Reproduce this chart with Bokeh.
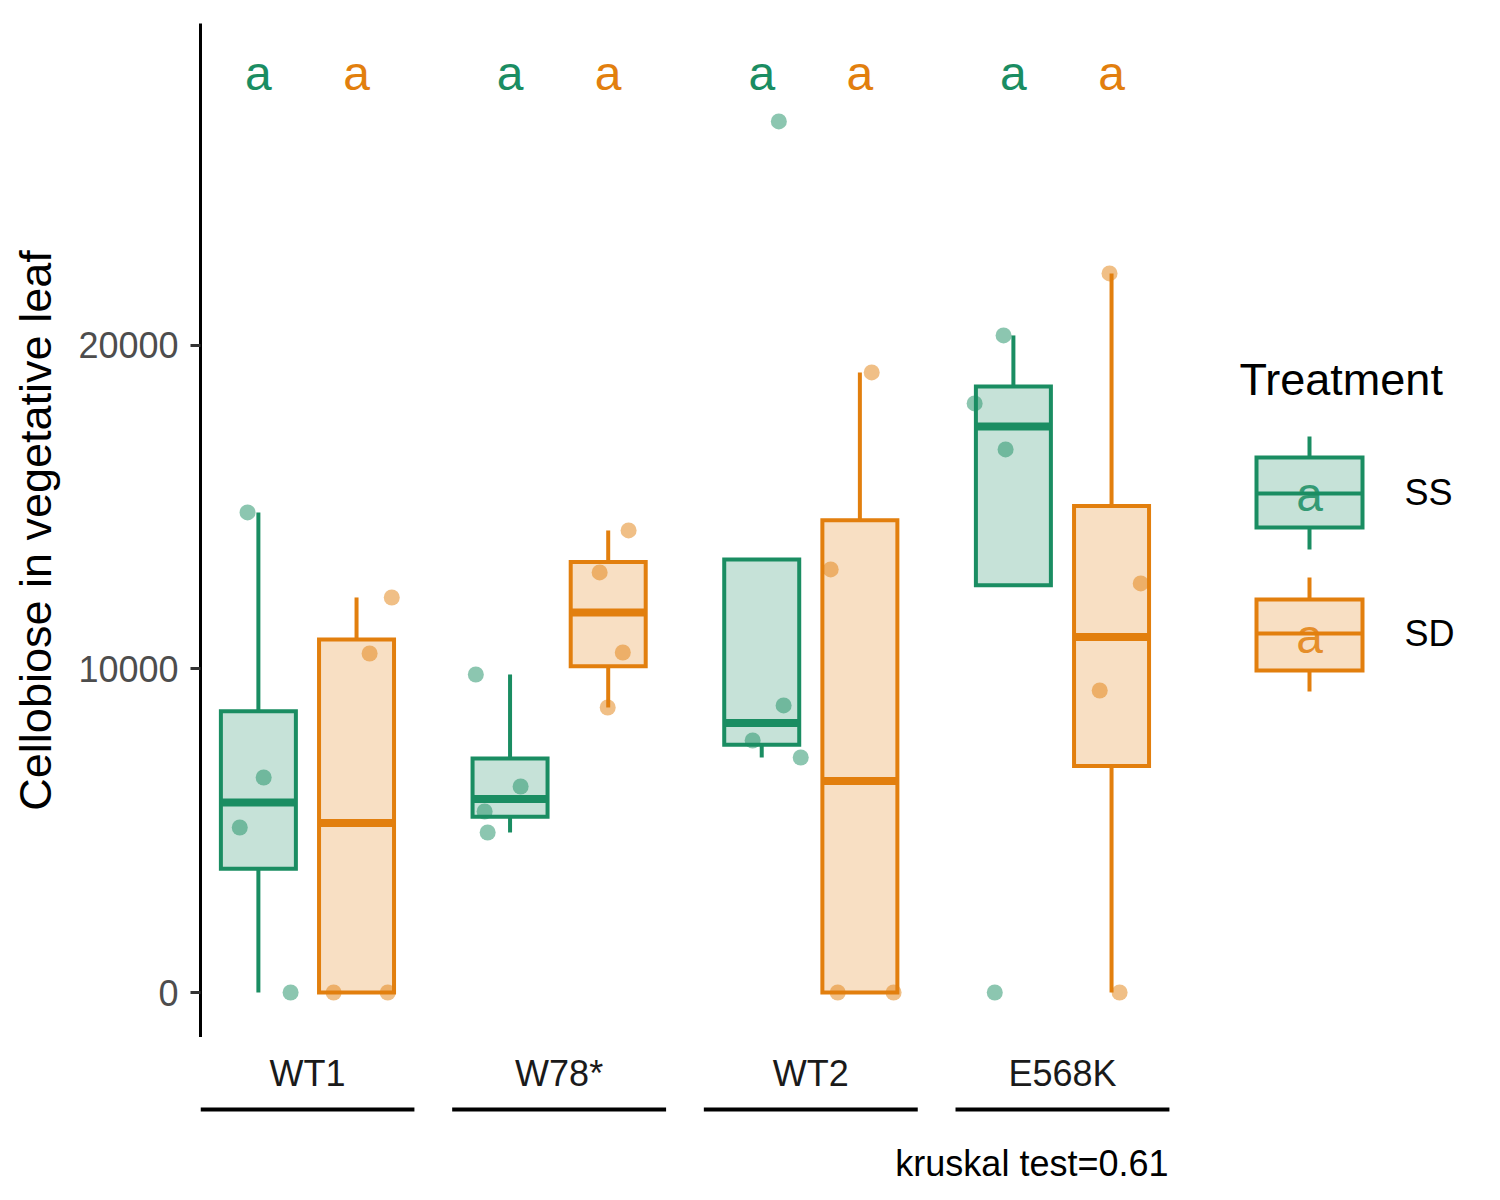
import numpy as np
from bokeh.plotting import figure
from bokeh.layouts import column
from bokeh.models import Range1d, FixedTicker, ColumnDataSource
from bokeh.core.properties import value
from bokeh.embed import file_html
from bokeh.resources import INLINE

# ---------------- data ----------------
genotypes = ["WT1", "W78*", "WT2", "E568K"]
treatments = ["SS", "SD"]

ss_values = [[0, 5100, 6646, 14838],
             [4946, 5595, 6368, 9830],
             [7264, 7790, 8872, 26924],
             [0, 16785, 18207, 20309]]
sd_values = [[0, 0, 10479, 12210],
             [8810, 10510, 12983, 14281],
             [0, 0, 13076, 19165],
             [0, 9335, 12643, 22226]]

# horizontal jitter of each point (category units), same order as values
ss_jitter = [[0.128, -0.074, 0.021, -0.043],
             [-0.089, -0.101, 0.042, -0.136],
             [0.155, -0.036, 0.087, 0.068],
             [-0.074, -0.031, -0.154, -0.039]]
sd_jitter = [[-0.091, 0.124, 0.052, 0.140],
             [-0.002, 0.058, -0.034, 0.081],
             [-0.088, 0.134, -0.116, 0.047],
             [0.032, -0.047, 0.116, -0.008]]

ss_letters = ["a", "a", "a", "a"]
sd_letters = ["a", "a", "a", "a"]

y_ticks = [0, 10000, 20000]
y_title = "Cellobiose in vegetative leaf"
legend_title = "Treatment"
caption = "kruskal test=0.61"

colors = {"SS": "#1A8D62", "SD": "#E27F0E"}
FONT = "Liberation Sans"

# ---------------- layout (page pixel geometry) ----------------
W, H = 1500, 1200
FRAME_L, FRAME_T, FRAME_R, FRAME_B = 200, 23, 1500, 1037
X_PX = 251.67      # pixels per category
X_LEFT = 0.575     # category coordinate at frame left
Y_PX = 0.032353    # pixels per unit
Y0_PX = 992        # page pixel row of y = 0
TXT = 14           # text-glyph baseline correction (px)
DODGE = 0.195
BOX_W = 0.298
LW = 4


def dx(px):
    return X_LEFT + (px - FRAME_L) / X_PX


def dy(py):
    return (Y0_PX - py) / Y_PX


def box_stats(v):
    v = np.sort(np.asarray(v, float))
    q1, med, q3 = np.percentile(v, [25, 50, 75])
    iqr = q3 - q1
    inr = v[(v >= q1 - 1.5 * iqr) & (v <= q3 + 1.5 * iqr)]
    lo = min(q1, inr.min())
    hi = max(q3, inr.max())
    return q1, med, q3, lo, hi


xr = Range1d(dx(FRAME_L), dx(FRAME_R))

p_main = figure(width=W, height=FRAME_B, output_backend="svg",
                toolbar_location=None, title=None,
                x_range=xr, y_range=Range1d(dy(FRAME_B), dy(FRAME_T)),
                x_axis_location=None, y_axis_location="left",
                min_border_left=FRAME_L, min_border_right=0,
                min_border_top=FRAME_T, min_border_bottom=0)
p_main.outline_line_color = None
p_main.xgrid.visible = False
p_main.ygrid.visible = False

ax = p_main.yaxis[0]
ax.ticker = FixedTicker(ticks=y_ticks)
ax.axis_line_width = 3
ax.axis_line_color = "black"
ax.major_tick_line_width = 3
ax.major_tick_line_color = "#333333"
ax.major_tick_out = 10
ax.major_tick_in = 0
ax.minor_tick_line_color = None
ax.major_label_text_font = FONT
ax.major_label_text_font_size = "36px"
ax.major_label_text_color = "#4D4D4D"
ax.major_label_standoff = 12
ax.axis_label = y_title
ax.axis_label_text_font = FONT
ax.axis_label_text_font_size = "45px"
ax.axis_label_text_font_style = "normal"
ax.axis_label_text_color = "black"
ax.axis_label_standoff = 14

# ---------------- boxes ----------------
series = [("SS", ss_values, ss_jitter, ss_letters, -DODGE),
          ("SD", sd_values, sd_jitter, sd_letters, DODGE)]

for tname, vals, jit, letters, off in series:
    col = colors[tname]
    bx = dict(x=[], left=[], right=[], q1=[], med=[], q3=[], lo=[], hi=[])
    for i, v in enumerate(vals):
        q1, med, q3, lo, hi = box_stats(v)
        c = i + 1 + off
        bx["x"].append(c)
        bx["left"].append(c - BOX_W / 2)
        bx["right"].append(c + BOX_W / 2)
        bx["q1"].append(q1)
        bx["med"].append(med)
        bx["q3"].append(q3)
        bx["lo"].append(lo)
        bx["hi"].append(hi)
    src = ColumnDataSource(bx)
    p_main.segment(x0="x", y0="q3", x1="x", y1="hi", source=src,
                   line_color=col, line_width=LW, line_cap="butt")
    p_main.segment(x0="x", y0="lo", x1="x", y1="q1", source=src,
                   line_color=col, line_width=LW, line_cap="butt")
    p_main.quad(left="left", right="right", bottom="q1", top="q3", source=src,
                fill_color=col, fill_alpha=0.25, line_color=col, line_width=LW,
                line_join="miter")
    p_main.segment(x0="left", y0="med", x1="right", y1="med", source=src,
                   line_color=col, line_width=2 * LW, line_cap="butt")

for tname, vals, jit, letters, off in series:
    col = colors[tname]
    px, py = [], []
    for i, v in enumerate(vals):
        for yv, jv in zip(v, jit[i]):
            px.append(i + 1 + off + jv)
            py.append(yv)
    p_main.scatter(x=px, y=py, size=16, fill_color=col, fill_alpha=0.5,
                   line_color=None)
    # significance letters
    p_main.text(x=[i + 1 + off for i in range(len(genotypes))],
                y=[dy(87 - TXT)] * len(genotypes), text=letters,
                text_font=value(FONT), text_font_size="48px", text_color=col,
                text_align="center", text_baseline="alphabetic")

# ---------------- legend ----------------
p_main.text(x=[dx(1239)], y=[dy(393 - TXT)], text=[legend_title],
            text_font=value(FONT), text_font_size="45px", text_color="black",
            text_align="left", text_baseline="alphabetic")
key_rows = [(457, 527, 493, 436, 549, 508, 506),
            (599, 670, 633, 577, 691, 650, 647)]
kx = dx(1309)
kw = 106 / X_PX
for (tname, _, _, letters, _), (bt, bb, bm, wt, wb, lb, tb) in zip(series, key_rows):
    col = colors[tname]
    p_main.segment(x0=[kx, kx], y0=[dy(wt), dy(bb)], x1=[kx, kx],
                   y1=[dy(bt), dy(wb)], line_color=col, line_width=LW,
                   line_cap="butt")
    p_main.quad(left=[kx - kw / 2], right=[kx + kw / 2], bottom=[dy(bb)],
                top=[dy(bt)], fill_color=col, fill_alpha=0.25, line_color=col,
                line_width=LW, line_join="miter")
    p_main.segment(x0=[kx - kw / 2], y0=[dy(bm)], x1=[kx + kw / 2],
                   y1=[dy(bm)], line_color=col, line_width=LW, line_cap="butt")
    p_main.text(x=[kx], y=[dy(lb - TXT)], text=[letters[0]],
                text_font=value(FONT), text_font_size="48px", text_color=col,
                text_alpha=0.85, text_align="center",
                text_baseline="alphabetic")
    p_main.text(x=[dx(1404)], y=[dy(tb - TXT)], text=[tname],
                text_font=value(FONT), text_font_size="36px",
                text_color="black", text_align="left",
                text_baseline="alphabetic")

# ---------------- bottom strip: category labels, brackets, caption ----------------
p_bot = figure(width=W, height=H - FRAME_B, output_backend="svg",
               toolbar_location=None, title=None,
               x_range=xr, y_range=Range1d(H, FRAME_B),
               x_axis_location=None, y_axis_location=None,
               min_border_left=FRAME_L, min_border_right=0,
               min_border_top=0, min_border_bottom=0)
p_bot.outline_line_color = None
p_bot.xgrid.visible = False
p_bot.ygrid.visible = False

cats = list(range(1, len(genotypes) + 1))
p_bot.text(x=cats, y=[1087 - TXT] * len(cats), text=genotypes,
           text_font=value(FONT), text_font_size="36px", text_color="#1A1A1A",
           text_align="center", text_baseline="alphabetic")
p_bot.segment(x0=[c - 0.425 for c in cats], y0=[1109] * len(cats),
              x1=[c + 0.425 for c in cats], y1=[1109] * len(cats),
              line_color="black", line_width=4, line_cap="butt")
p_bot.text(x=[dx(1168)], y=[1177 - TXT], text=[caption],
           text_font=value(FONT), text_font_size="36px", text_color="black",
           text_align="right", text_baseline="alphabetic")

p = column(p_main, p_bot, spacing=0)
open("out.html", "w").write(file_html(p, INLINE))
